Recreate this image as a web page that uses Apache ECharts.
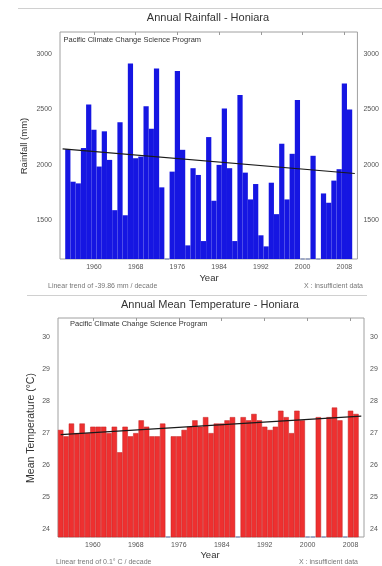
<!DOCTYPE html>
<html><head><meta charset="utf-8">
<script src="https://cdn.jsdelivr.net/npm/echarts@6/dist/echarts.min.js"></script>
<style>html,body{margin:0;padding:0;background:#fff}#c{width:382px;height:566px}</style>
</head><body><div id="c"></div><script>
const years = ['1954','1955','1956','1957','1958','1959','1960','1961','1962','1963','1964','1965','1966','1967','1968','1969','1970','1971','1972','1973','1974','1975','1976','1977','1978','1979','1980','1981','1982','1983','1984','1985','1986','1987','1988','1989','1990','1991','1992','1993','1994','1995','1996','1997','1998','1999','2000','2001','2002','2003','2004','2005','2006','2007','2008','2009','2010'];
const tickYears = ['1960','1968','1976','1984','1992','2000','2008'];
const rainfall = [null,2142,1848,1833,2152,2545,2318,1985,2303,2045,1591,2385,1545,2915,2060,2075,2530,2327,2870,1797,null,1939,2848,2136,1273,1970,1909,1312,2251,1676,2000,2509,1970,1312,2630,1930,1688,1827,1364,1264,1839,1555,2191,1688,2100,2585,null,null,2082,null,1742,1658,1858,1961,2736,2500,null];
const temperature = [27.1,26.9,27.3,27.0,27.3,27.0,27.2,27.2,27.2,27.0,27.2,26.4,27.2,26.9,27.0,27.4,27.2,26.9,26.9,27.3,null,26.9,26.9,27.1,27.2,27.4,27.2,27.5,27.0,27.3,27.3,27.4,27.5,null,27.5,27.4,27.6,27.4,27.2,27.1,27.2,27.7,27.5,27.0,27.7,27.4,null,null,27.5,null,27.5,27.8,27.4,null,27.7,27.6,null];
const rainTrend = [['1954',2145],['2010',1922]];
const tempTrend = [['1954',26.95],['2010',27.53]];
const rainMissing = ['1974','2000','2001','2003'];
const tempMissing = ['1974','1987','2000','2001','2003','2007'];
const rainRange = {min:1150, max:3200, step:50};
const tempRange = {min:23.75, max:30.6, step:0.05};

const FONT = '"Liberation Sans", Arial, sans-serif';
const chart = echarts.init(document.getElementById('c'), null, {renderer:'canvas'});

function xAx(grid, position, showLabel, margin) {
  return {
    type:'category', gridIndex:grid, data:years, position:position, boundaryGap:true,
    axisLine:{show:false},
    axisTick:{show:position==='top', inside:true, length:3, alignWithLabel:true,
      interval:(i,v)=>tickYears.indexOf(v)>=0, lineStyle:{color:'#999'}},
    axisLabel:{show:showLabel, interval:(i,v)=>tickYears.indexOf(v)>=0, fontSize:7, color:'#555', margin:margin, fontFamily:FONT},
    splitLine:{show:false}
  };
}
function yAx(grid, position, r, fmt) {
  return {
    type:'value', gridIndex:grid, position:position, min:r.min, max:r.max, interval:r.step,
    axisLine:{show:false}, axisTick:{show:false}, splitLine:{show:false},
    axisLabel:{formatter:fmt, fontSize:7, color:'#555', margin:position==='left'?8:6, fontFamily:FONT, showMinLabel:true, showMaxLabel:true}
  };
}
const rainFmt = v => (Math.abs(v % 500) < 1e-6 ? String(Math.round(v)) : '');
const tempFmt = v => (Math.abs(v - Math.round(v)) < 1e-6 ? String(Math.round(v)) : '');

function txt(x, y, text, size, fill, align, extra) {
  return Object.assign({type:'text', x:x, y:y, silent:true,
    style:{text:text, font:size+'px '+FONT, fill:fill, align:align, verticalAlign:'middle'}}, extra||{});
}

chart.setOption({
  animation:false,
  grid:[
    {left:60, top:32, width:302, height:227, show:true, borderColor:'#a0a0a0', borderWidth:1},
    {left:58, top:318, width:306, height:219, show:true, borderColor:'#a0a0a0', borderWidth:1}
  ],
  xAxis:[ xAx(0,'bottom',true,5), xAx(0,'top',false,5), xAx(1,'bottom',true,4.5), xAx(1,'top',false,5) ],
  yAxis:[ yAx(0,'left',rainRange,rainFmt), yAx(0,'right',rainRange,rainFmt), yAx(1,'left',tempRange,tempFmt), yAx(1,'right',tempRange,tempFmt) ],
  series:[
    {type:'bar', xAxisIndex:0, yAxisIndex:0, data:rainfall, barCategoryGap:'0%', silent:true,
      itemStyle:{color:'#1616e2'}},
    {type:'line', xAxisIndex:0, yAxisIndex:0, data:rainTrend, showSymbol:false, silent:true, z:5,
      lineStyle:{color:'#1a1a1a', width:1.2}},
    {type:'scatter', xAxisIndex:0, yAxisIndex:0, data:rainMissing.map(y=>[y, rainRange.min]), symbol:'rect', symbolSize:[4,1.5], silent:true,
      itemStyle:{color:'#8090c0'}},
    {type:'bar', xAxisIndex:2, yAxisIndex:2, data:temperature, barCategoryGap:'0%', silent:true,
      itemStyle:{color:'#ee3030', borderColor:'#c42424', borderWidth:0.5}},
    {type:'line', xAxisIndex:2, yAxisIndex:2, data:tempTrend, showSymbol:false, silent:true, z:5,
      lineStyle:{color:'#1a1a1a', width:1.2}},
    {type:'scatter', xAxisIndex:2, yAxisIndex:2, data:tempMissing.map(y=>[y, tempRange.min]), symbol:'rect', symbolSize:[4,1.5], silent:true,
      itemStyle:{color:'#8090c0'}}
  ],
  graphic:[
    {type:'line', silent:true, shape:{x1:18,y1:8.5,x2:382,y2:8.5}, style:{stroke:'#d0d0d0', lineWidth:1}},
    {type:'line', silent:true, shape:{x1:27,y1:295.5,x2:367,y2:295.5}, style:{stroke:'#d0d0d0', lineWidth:1}},
    txt(208, 17.5, 'Annual Rainfall - Honiara', 11, '#333', 'center'),
    txt(63.5, 40, 'Pacific Climate Change Science Program', 7.5, '#333', 'left'),
    txt(24, 146, 'Rainfall (mm)', 9.5, '#333', 'center', {rotation:Math.PI/2}),
    txt(209, 278.5, 'Year', 9.5, '#333', 'center'),
    txt(48, 286, 'Linear trend of -39.86 mm / decade', 7, '#777', 'left'),
    txt(363, 286, 'X : insufficient data', 7, '#777', 'right'),
    txt(210, 305, 'Annual Mean Temperature - Honiara', 11, '#333', 'center'),
    txt(70, 324, 'Pacific Climate Change Science Program', 7.5, '#333', 'left'),
    txt(31, 428, 'Mean Temperature (°C)', 10.5, '#333', 'center', {rotation:Math.PI/2}),
    txt(210, 555, 'Year', 9.5, '#333', 'center'),
    txt(56, 562.5, 'Linear trend of 0.1° C / decade', 7, '#777', 'left'),
    txt(358, 562.5, 'X : insufficient data', 7, '#777', 'right')
  ]
});
</script></body></html>
